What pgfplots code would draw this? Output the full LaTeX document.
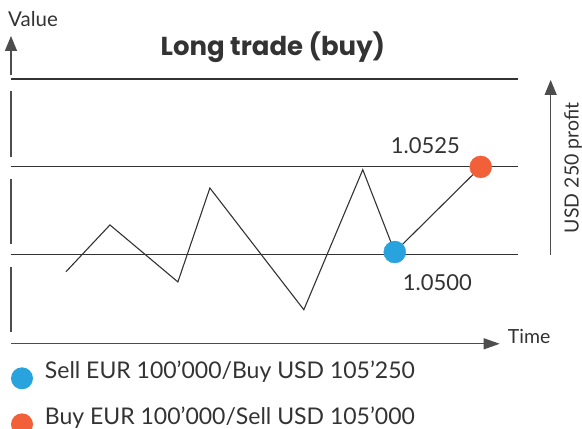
\documentclass[border=0pt]{standalone}
\usepackage{pgfplots}
\pgfplotsset{compat=1.18}
\usepackage{fontspec}
\setmainfont{Lato}
\newfontfamily\titlefont{Poppins}
\usetikzlibrary{arrows.meta}
\definecolor{ink}{HTML}{333333}
\definecolor{axisgray}{HTML}{4D4D4D}
\definecolor{sellblue}{HTML}{29A3DD}
\definecolor{buyorange}{HTML}{F2603A}
\begin{document}
\begin{tikzpicture}
\begin{axis}[
  at={(0,0)}, anchor=south west,
  width=582pt, height=429pt, scale only axis,
  xmin=0, xmax=582, ymin=1.0450568, ymax=1.0572443,
  hide axis, clip=false,
  legend style={at={(axis cs:11,1.046989)}, anchor=north west, draw=none, fill=none,
    inner sep=0pt, outer sep=0pt, row sep=27pt,
    font=\fontsize{23}{27}\selectfont\color{ink},
    nodes={inner sep=0pt}},
  legend cell align=left,
  legend image code/.code={\fill[#1,draw=none,overlay] (11pt,-8pt) circle (11pt); \path (0pt,0pt) -- (34pt,0pt);},
]
% price levels
\addplot[ink, line width=1.2pt, forget plot] coordinates {(11,1.0550) (518,1.0550)};
\addplot[ink, line width=1.2pt, forget plot] coordinates {(11,1.0525) (518,1.0525)};
\addplot[ink, line width=1.2pt, forget plot] coordinates {(11,1.0500) (518,1.0500)};
% price path
\addplot[ink, line width=1.1pt, forget plot] table {
x y
66 1.04952
110 1.05085
178 1.04923
210 1.05190
304 1.04844
363 1.05242
395 1.05008
481 1.05250
};
\addplot[only marks, mark=*, mark size=11pt, sellblue, draw=none] coordinates {(395,1.05008)};
\addlegendentry{Sell EUR 100’000/Buy USD 105’250}
\addplot[only marks, mark=*, mark size=11pt, buyorange, draw=none] coordinates {(481,1.05250)};
\addlegendentry{Buy EUR 100’000/Sell USD 105’000}
\end{axis}
\begin{scope}[x=1pt,y=-1pt,yshift=429pt]
  \draw[axisgray, line width=1.2pt, -{Triangle[length=15pt,width=12pt]}] (11,75) -- (11,36);
  \draw[axisgray, line width=1.2pt] (11,91) -- (11,157) (11,179) -- (11,244) (11,267) -- (11,332);
  \draw[axisgray, line width=1.2pt, -{Triangle[length=16pt,width=11pt]}] (11,344) -- (500,344);
  \draw[axisgray, line width=1.2pt, -{Triangle[length=15pt,width=12pt]}] (551,255) -- (551,80);
  \node[anchor=base west, inner sep=0pt, text=ink, font=\fontsize{20.5}{24}\selectfont] at (8,27) {Value};
  \node[anchor=base, inner sep=0pt, text=ink, font=\fontsize{26}{30}\selectfont\titlefont\bfseries] at (273,56) {Long trade (buy)};
  \node[anchor=base west, inner sep=0pt, text=ink, font=\fontsize{22}{26}\selectfont] at (391,154) {1.0525};
  \node[anchor=base west, inner sep=0pt, text=ink, font=\fontsize{22}{26}\selectfont] at (403,291) {1.0500};
  \node[anchor=base west, inner sep=0pt, text=ink, font=\fontsize{19.5}{23}\selectfont] at (508,344) {Time};
  \node[anchor=base, rotate=90, inner sep=0pt, text=ink, font=\fontsize{19.5}{23}\selectfont] at (579,168) {USD 250 profit};
\end{scope}
\path[use as bounding box] (0,0) rectangle (582pt,429pt);
\end{tikzpicture}
\end{document}
